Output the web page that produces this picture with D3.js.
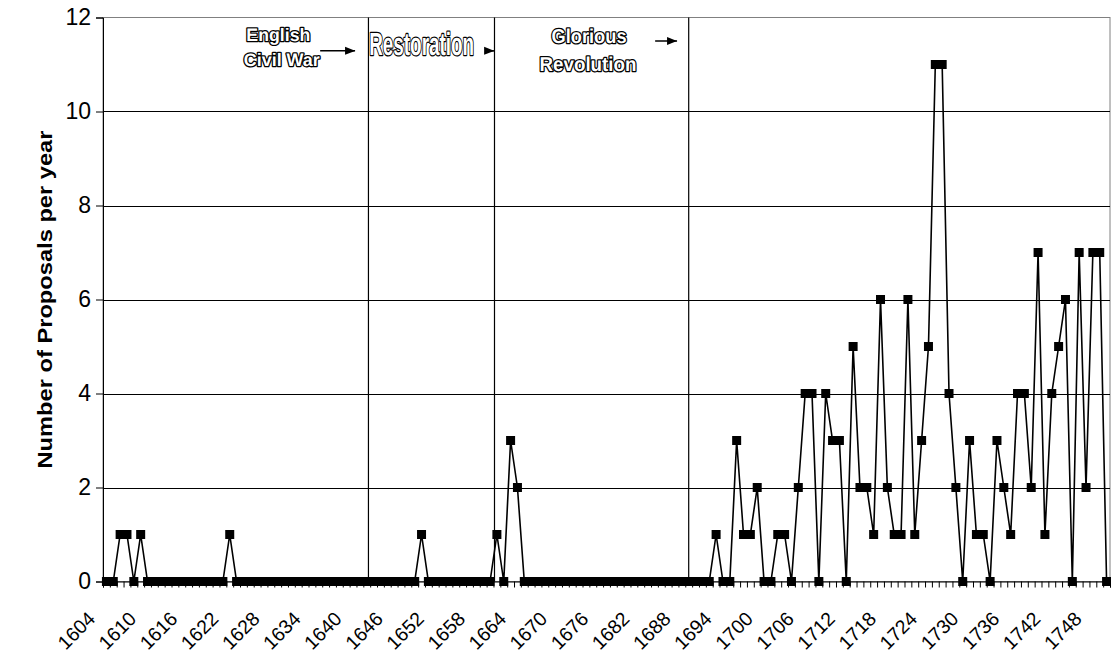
<!DOCTYPE html>
<html>
<head>
<meta charset="utf-8">
<script src="https://cdn.jsdelivr.net/npm/d3@7"></script>
<style>
  html, body { margin: 0; padding: 0; background: #fff; }
  svg { display: block; }
  text { font-family: "Liberation Sans", Arial, sans-serif; }
</style>
</head>
<body>
<svg id="chart" width="1111" height="663"></svg>
<script>
// ---------- data ----------
const firstYear = 1604;
const lastYear = 1750;
const years = d3.range(firstYear, lastYear + 1);
const proposals = [
  0,0,1,1,0,1,                 // 1604-1609
  0,0,0,0,0,0,0,0,0,0,         // 1610s
  0,0,1,0,0,0,0,0,0,0,         // 1620s
  0,0,0,0,0,0,0,0,0,0,         // 1630s
  0,0,0,0,0,0,0,0,0,0,         // 1640s
  1,0,0,0,0,0,0,0,0,0,         // 1650s
  0,1,0,3,2,0,0,0,0,0,         // 1660s
  0,0,0,0,0,0,0,0,0,0,         // 1670s
  0,0,0,0,0,0,0,0,0,0,         // 1680s
  0,0,0,1,0,0,3,1,1,2,         // 1690s
  0,0,1,1,0,2,4,4,0,4,         // 1700s
  3,3,0,5,2,2,1,6,2,1,         // 1710s
  1,6,1,3,5,11,11,4,2,0,       // 1720s
  3,1,1,0,3,2,1,4,4,2,         // 1730s
  7,1,4,5,6,0,7,2,7,7,         // 1740s
  0                            // 1750
];
const xTickLabels = d3.range(1604, 1751, 6);   // every sixth year labelled
const yTickValues = [0, 2, 4, 6, 8, 10, 12];
const yTitle = "Number of Proposals per year";
// period boundaries (in years, as drawn)
const eventYears = [1642.25, 1660.65, 1689.0];

// ---------- layout ----------
const svg = d3.select("#chart");
const L = 103, R = 1110, T = 17.5, B = 581.5;

const x = d3.scaleBand().domain(years).range([L, R]).paddingInner(0).paddingOuter(0);
const bw = x.bandwidth();
const cx = d => x(d) + bw / 2;
const xl = d3.scaleLinear().domain([firstYear - 0.5, lastYear + 0.5]).range([L, R]);
const y = d3.scaleLinear().domain([0, 12]).range([B, T]);

// plot border (top / right)
svg.append("rect").attr("x", L).attr("y", T).attr("width", R - L).attr("height", B - T)
  .attr("fill", "none").attr("stroke", "#808080").attr("stroke-width", 1);

// horizontal gridlines
svg.append("g").selectAll("line").data(yTickValues.filter(v => v > 0 && v < 12)).join("line")
  .attr("x1", L).attr("x2", R)
  .attr("y1", d => Math.round(y(d)) + 0.5).attr("y2", d => Math.round(y(d)) + 0.5)
  .attr("stroke", "#000").attr("stroke-width", 1);

// period boundary lines
svg.append("g").selectAll("line").data(eventYears).join("line")
  .attr("x1", d => xl(d)).attr("x2", d => xl(d))
  .attr("y1", T).attr("y2", B)
  .attr("stroke", "#000").attr("stroke-width", 1.2);

// y axis
const yAxis = d3.axisLeft(y).tickValues(yTickValues).tickSize(7).tickPadding(5);
const gy = svg.append("g").attr("transform", `translate(${L},0)`).call(yAxis);
gy.select(".domain").attr("stroke", "#000");
gy.selectAll(".tick line").attr("stroke", "#000");
gy.selectAll(".tick text").attr("font-size", 23).attr("fill", "#000")
  .attr("font-family", "Liberation Sans, Arial, sans-serif");

// x axis: ticks at category boundaries
const boundaries = d3.range(firstYear - 0.5, lastYear + 1, 1);
const xAxis = d3.axisBottom(xl).tickValues(boundaries).tickSize(6).tickFormat("");
const gx = svg.append("g").attr("transform", `translate(0,${B})`).call(xAxis);
gx.select(".domain").attr("stroke", "#000");
gx.selectAll(".tick line").attr("stroke", "#000");

// x labels
svg.append("g").selectAll("text").data(xTickLabels).join("text")
  .attr("transform", d => `translate(${cx(d) - 10},${620}) rotate(-45)`)
  .attr("text-anchor", "end")
  .attr("font-size", 19.5)
  .attr("fill", "#000")
  .text(d => d);

// y title
svg.append("text")
  .attr("transform", `translate(52,${(T + B) / 2}) rotate(-90)`)
  .attr("text-anchor", "middle")
  .attr("font-size", 21).attr("font-weight", "bold")
  .attr("textLength", 338).attr("lengthAdjust", "spacingAndGlyphs")
  .text(yTitle);

// line + markers
const line = d3.line().x((d, i) => cx(years[i])).y(d => y(d));
svg.append("path").datum(proposals).attr("d", line)
  .attr("fill", "none").attr("stroke", "#000").attr("stroke-width", 1.6);

const ms = 9;
svg.append("g").selectAll("rect").data(proposals).join("rect")
  .attr("x", (d, i) => cx(years[i]) - ms / 2)
  .attr("y", d => y(d) - ms / 2)
  .attr("width", ms).attr("height", ms)
  .attr("fill", "#000");

// ---------- annotations (placed in data units) ----------
const outlined = (g, txt, yr, val, opts) => {
  const t = g.append("text")
    .attr("x", xl(yr)).attr("y", y(val))
    .attr("text-anchor", opts.anchor || "middle")
    .attr("font-size", opts.size)
    .attr("font-weight", "bold")
    .attr("fill", "#fff")
    .attr("stroke", "#000")
    .attr("stroke-width", opts.sw || 2.6)
    .attr("stroke-linejoin", "round")
    .attr("paint-order", "stroke")
    .attr("text-rendering", "geometricPrecision")
    .text(txt);
  if (opts.family) t.attr("font-family", opts.family);
  if (opts.len) t.attr("textLength", opts.len).attr("lengthAdjust", "spacingAndGlyphs");
  return t;
};
const ann = svg.append("g");
outlined(ann, "English", 1629.1, 11.5, {size: 18, len: 64});
outlined(ann, "Civil War", 1629.6, 10.97, {size: 18, len: 76});
outlined(ann, "Restoration", 1642.35, 11.2, {size: 32, len: 105, anchor: "start",
  family: "Liberation Sans Narrow, Arial Narrow, sans-serif"});
outlined(ann, "Glorious", 1674.45, 11.46, {size: 20, len: 75});
outlined(ann, "Revolution", 1674.3, 10.86, {size: 20, len: 97});

svg.append("defs").append("marker")
  .attr("id", "ah").attr("viewBox", "0 0 10 10").attr("refX", 10).attr("refY", 5)
  .attr("markerWidth", 10).attr("markerHeight", 10).attr("markerUnits", "userSpaceOnUse")
  .attr("orient", "auto")
  .append("path").attr("d", "M0,1 L10,5 L0,9 Z").attr("fill", "#000");

const arrows = [
  {x1: 1635.2, x2: 1640.3, v: 11.29},
  {x1: 1659.3, x2: 1660.6, v: 11.29},
  {x1: 1684.1, x2: 1687.3, v: 11.5}
];
ann.selectAll("line.arrow").data(arrows).join("line").attr("class", "arrow")
  .attr("x1", d => xl(d.x1)).attr("x2", d => xl(d.x2))
  .attr("y1", d => y(d.v)).attr("y2", d => y(d.v))
  .attr("stroke", "#000").attr("stroke-width", 1.5)
  .attr("marker-end", "url(#ah)");
</script>
</body>
</html>
